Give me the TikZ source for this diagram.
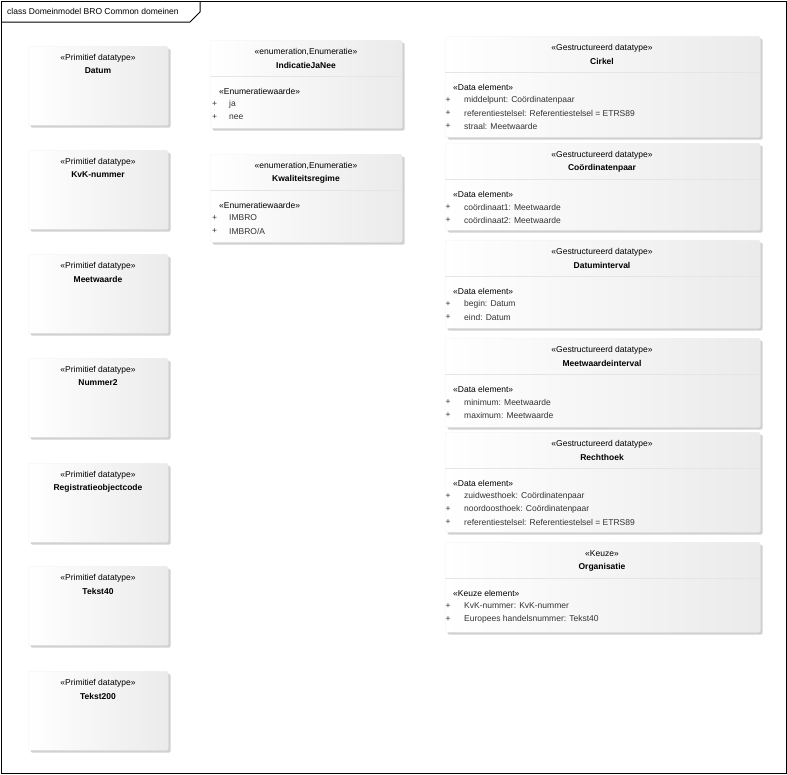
\documentclass[tikz,border=0pt]{standalone}
\usepackage{fontspec}
\setmainfont{Liberation Sans}
\usetikzlibrary{shadows}

\begin{document}
\begin{tikzpicture}[x=1pt, y=-1pt]
		% Styles
		\tikzstyle{classbox}=[draw=black!5, rounded corners=1.5pt, left color=white, right color=black!8, drop shadow={shadow xshift=2.5pt, shadow yshift=-2.5pt, fill=black!18, opacity=1}, anchor=north west, inner sep=0pt]
		\tikzstyle{stereo}=[font=\fontsize{8.5}{10}\selectfont, inner sep=0pt]
		\tikzstyle{title}=[font=\fontsize{8.5}{10}\selectfont\bfseries, inner sep=0pt]
		\tikzstyle{attr}=[font=\fontsize{8.5}{10}\selectfont, text=black!80, inner sep=0pt, anchor=west]
		\tikzstyle{divider}=[draw=black!10, line width=0.6pt]

		\useasboundingbox (0,0) rectangle (787,774);

		% Frame with tab
		\draw[line width=1pt] (1,1) rectangle (786,773);
		\draw[line width=1pt] (1,22) -- (190,22) -- (200,12) -- (200,1);
		\node[attr, text=black] (frametitle) at (7,11) {class Domeinmodel BRO Common domeinen};

		% Primitieve datatypes
		\foreach \name/\label/\y in {datum/Datum/46, kvk/KvK-nummer/150, meetwaarde/Meetwaarde/254, nummer/Nummer2/358, regcode/Registratieobjectcode/463, tekst40/Tekst40/566, tekst200/Tekst200/671}
		{
			\node[classbox, minimum width=140pt, minimum height=79pt] (\name) at (28,\y) {};
			\node[stereo] (\name-st) at (98,\y+12) {«Primitief datatype»};
			\node[title] (\name-nm) at (98,\y+25) {\label};
		}

		% Enumeraties
		\foreach \name/\label/\y in {jaNee/IndicatieJaNee/40, kwaliteit/Kwaliteitsregime/154}
		{
			\node[classbox, minimum width=192pt, minimum height=88pt] (\name) at (210,\y) {};
			\path[divider] ([yshift=-36pt]\name.north west) -- ([yshift=-36pt]\name.north east);
			\node[stereo] (\name-st) at (306,\y+12) {«enumeration,Enumeratie»};
			\node[title] (\name-nm) at (306,\y+25) {\label};
			\node[attr, text=black] (\name-sec) at (219,\y+51) {«Enumeratiewaarde»};
		}
		\foreach \name/\val/\y in {ja/ja/104, nee/nee/117, imbro/IMBRO/218, imbroA/{IMBRO/A}/231}
		{
			\node[attr] (\name-plus) at (212,\y) {+};
			\node[attr] (\name) at (229,\y) {\val};
		}

		% Gestructureerde datatypes en keuze
		\foreach \name/\stereo/\label/\sec/\y/\h in {cirkel/Gestructureerd datatype/Cirkel/Data element/36/101, coordpaar/Gestructureerd datatype/Coördinatenpaar/Data element/143/87, datumint/Gestructureerd datatype/Datuminterval/Data element/240/88, meetint/Gestructureerd datatype/Meetwaardeinterval/Data element/338/89, rechthoek/Gestructureerd datatype/Rechthoek/Data element/432/100, organisatie/Keuze/Organisatie/Keuze element/542/90}
		{
			\node[classbox, minimum width=315pt, minimum height=\h pt] (\name) at (445,\y) {};
			\path[divider] ([yshift=-36pt]\name.north west) -- ([yshift=-36pt]\name.north east);
			\node[stereo] (\name-st) at (602,\y+12) {«\stereo»};
			\node[title] (\name-nm) at (602,\y+25) {\label};
			\node[attr, text=black] (\name-sec) at (453,\y+51) {«\sec»};
		}
		\foreach \name/\val/\y in {middelpunt/{middelpunt: Coördinatenpaar}/100, cirkelref/{referentiestelsel: Referentiestelsel = ETRS89}/113, straal/{straal: Meetwaarde}/126, coord1/{coördinaat1: Meetwaarde}/207, coord2/{coördinaat2: Meetwaarde}/220, begin/{begin: Datum}/304, eind/{eind: Datum}/317, minimum/{minimum: Meetwaarde}/402, maximum/{maximum: Meetwaarde}/415, zuidwest/{zuidwesthoek: Coördinatenpaar}/496, noordoost/{noordoosthoek: Coördinatenpaar}/509, rechtref/{referentiestelsel: Referentiestelsel = ETRS89}/522, kvknr/{KvK-nummer: KvK-nummer}/606, handelsnr/{Europees handelsnummer: Tekst40}/619}
		{
			\node[attr] (\name-plus) at (445.5,\y) {+};
			\node[attr] (\name) at (464,\y) {\val};
		}
	\end{tikzpicture}
\end{document}
